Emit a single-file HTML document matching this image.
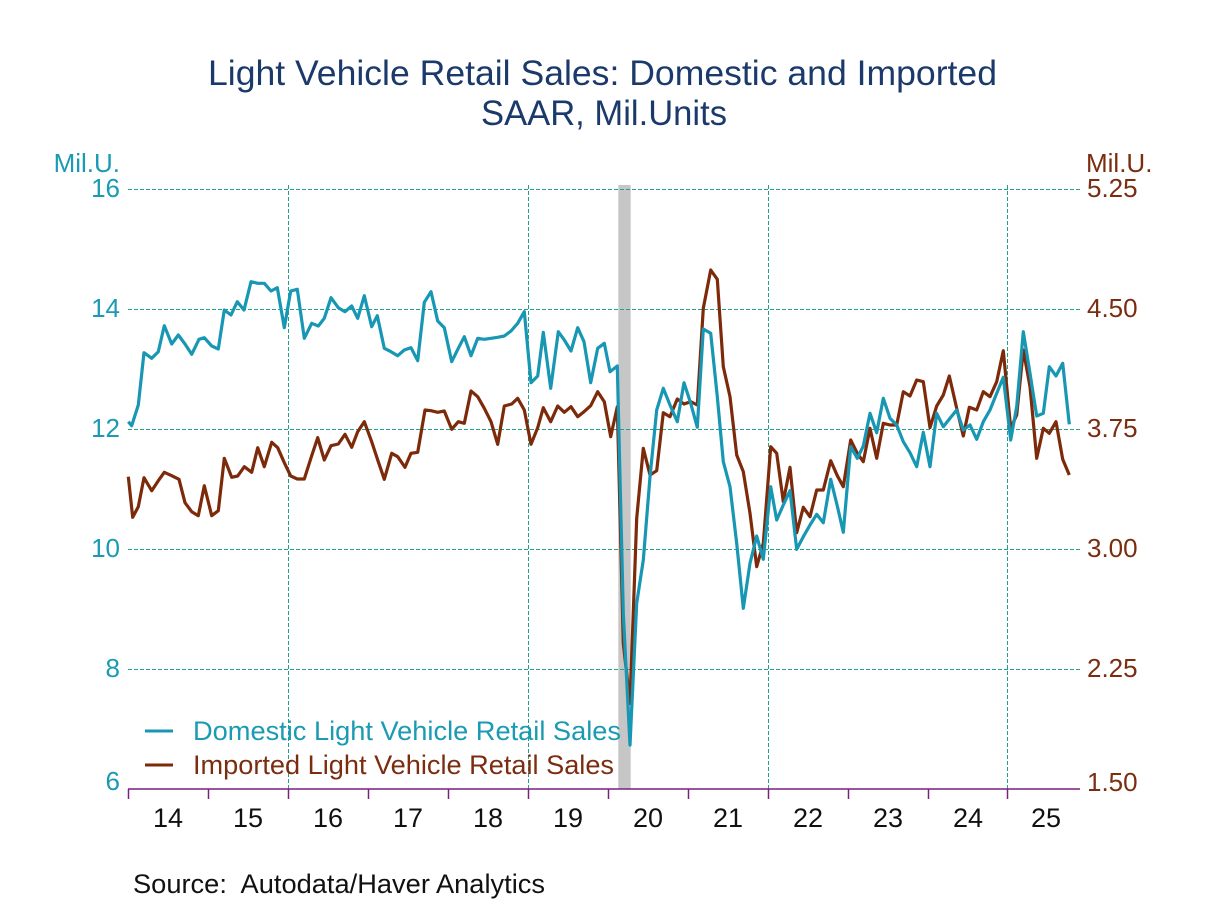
<!DOCTYPE html>
<html><head><meta charset="utf-8"><style>
html,body{margin:0;padding:0;background:#fff;}
svg{display:block;font-family:"Liberation Sans",Arial,sans-serif;}
</style></head><body>
<svg width="1208" height="906" viewBox="0 0 1208 906" xmlns="http://www.w3.org/2000/svg">
<rect width="1208" height="906" fill="#fff"/>
<!-- title -->
<text x="208" y="85" font-size="35.5" fill="#1b3a6b" textLength="789" lengthAdjust="spacingAndGlyphs">Light Vehicle Retail Sales: Domestic and Imported</text>
<text x="481" y="125" font-size="35.5" fill="#1b3a6b" textLength="246" lengthAdjust="spacingAndGlyphs">SAAR, Mil.Units</text>
<!-- recession bar -->
<rect x="618.3" y="185" width="12.4" height="604" fill="#c6c6c6"/>
<!-- grid -->
<g stroke="#22a08a" stroke-width="1" stroke-dasharray="4,2" fill="none" shape-rendering="crispEdges">
<line x1="128" y1="189.5" x2="1080" y2="189.5"/>
<line x1="128" y1="309.5" x2="1080" y2="309.5"/>
<line x1="128" y1="429.5" x2="1080" y2="429.5"/>
<line x1="128" y1="549.5" x2="1080" y2="549.5"/>
<line x1="128" y1="669.5" x2="1080" y2="669.5"/>
<line x1="288.5" y1="185" x2="288.5" y2="789"/>
<line x1="528.5" y1="185" x2="528.5" y2="789"/>
<line x1="768.5" y1="185" x2="768.5" y2="789"/>
<line x1="1007.5" y1="185" x2="1007.5" y2="789"/>
</g>
<!-- axis -->
<g stroke="#7d1f7d" stroke-width="1.5">
<line x1="128" y1="789" x2="1080" y2="789"/>
<line x1="128.5" y1="789" x2="128.5" y2="799"/>
<line x1="208.5" y1="789" x2="208.5" y2="799"/>
<line x1="288.5" y1="789" x2="288.5" y2="799"/>
<line x1="368.5" y1="789" x2="368.5" y2="799"/>
<line x1="448.5" y1="789" x2="448.5" y2="799"/>
<line x1="528.5" y1="789" x2="528.5" y2="799"/>
<line x1="608.5" y1="789" x2="608.5" y2="799"/>
<line x1="688.5" y1="789" x2="688.5" y2="799"/>
<line x1="768.5" y1="789" x2="768.5" y2="799"/>
<line x1="848.5" y1="789" x2="848.5" y2="799"/>
<line x1="928.5" y1="789" x2="928.5" y2="799"/>
<line x1="1007.5" y1="789" x2="1007.5" y2="799"/>
</g>
<!-- x labels -->
<g font-size="27" fill="#111" text-anchor="middle">
<text x="168" y="827">14</text><text x="248" y="827">15</text><text x="328" y="827">16</text>
<text x="408" y="827">17</text><text x="488" y="827">18</text><text x="568" y="827">19</text>
<text x="648" y="827">20</text><text x="728" y="827">21</text><text x="808" y="827">22</text>
<text x="888" y="827">23</text><text x="968" y="827">24</text><text x="1046" y="827">25</text>
</g>
<!-- left labels -->
<g font-size="26" fill="#1b9ab3" text-anchor="end">
<text x="120" y="172">Mil.U.</text>
<text x="120" y="197">16</text>
<text x="120" y="317">14</text>
<text x="120" y="437">12</text>
<text x="120" y="557">10</text>
<text x="120" y="677">8</text>
<text x="120" y="790">6</text>
</g>
<!-- right labels -->
<g font-size="26" fill="#7b2d10" text-anchor="start">
<text x="1086" y="172">Mil.U.</text>
<text x="1087" y="197">5.25</text>
<text x="1087" y="317">4.50</text>
<text x="1087" y="437">3.75</text>
<text x="1087" y="557">3.00</text>
<text x="1087" y="677">2.25</text>
<text x="1087" y="791">1.50</text>
</g>
<!-- imported -->
<polyline fill="none" stroke="#7d2a0b" stroke-width="3.2" stroke-linejoin="round" points="128.3,476.7 132.7,517.3 138.3,506.7 144,477.7 151.7,490.7 158.3,480.7 164.3,472.3 171.7,475.7 179,479.3 185,502.7 191.7,511.7 198.3,515.7 204.3,485.7 211.7,515.7 218.3,510.7 224.3,458.3 231.7,477.3 237.7,476 244.3,466.7 251.7,472.3 257.7,447.7 264.3,466.7 271.7,442.3 277.7,447.7 284.3,462.7 290.7,476 297.3,479 304.3,479 311.7,455.7 317.7,437.7 324.3,460 331,445.7 338.3,444 345,434.3 351.7,447.3 357.7,431.7 364.3,421.7 371.7,441.7 378.3,461.7 384.3,479.3 391.7,453.3 397.7,456.7 405,467.3 411,453.3 417.7,452.3 425,410 431,410.7 437.7,412.3 444.3,411 451.7,429.3 458.3,421.7 464.3,423.3 471,391 477.7,396.7 484.3,408.3 491,421.7 497.7,444.3 504.3,406 511.7,404 517.7,398.3 524.3,410 531,444.3 537.7,427.7 543.3,407.7 550.7,421.7 557.7,406 564.3,412.3 571,406.7 577.7,416.7 584,411.7 590.7,405.7 597.7,391.7 604.3,401.7 610.7,436.7 617.3,406.7 623.3,643.3 630,703.3 636.7,518.3 643.3,448.3 650,475 656.7,470.7 663.3,412.7 670,416.7 677.3,399 684,404 690.7,401.7 697.3,405 703.3,308.3 710.7,270 717.3,279.3 723.3,366.7 730,396.7 736.7,455 743.3,471.7 750,513.3 756.7,566.7 763.3,543.3 770.7,446.7 776.7,453.3 783.3,501.7 790,467.3 796.7,532.7 803.3,507.3 810,516.7 816.7,490 823.3,490 830.7,460.7 837.3,475.7 843.3,486.7 850.7,440 857.3,453.3 863.3,461.7 870,428.3 876.7,458.3 883.3,423.3 890,425 896.7,425 903.3,391.7 910,396 916.7,380 923.3,381.7 930,427.7 936.7,406 943.3,395 949.3,376 956.7,408.3 963.3,436 969.3,407.3 976.7,410 983.3,391.7 990,396.7 996.7,381.7 1003.3,350.7 1010.7,428.3 1016.7,415 1023.3,350 1030,386.7 1036.7,458.3 1043.3,428.3 1049.3,433.3 1056,421.7 1062.7,459.3 1069.3,475"/>
<!-- domestic -->
<polyline fill="none" stroke="#1797b4" stroke-width="3.2" stroke-linejoin="round" points="128.3,421.7 131.7,425.7 138.3,405 144,352.7 151.7,358.3 158.3,351.7 164.3,325.7 171.7,344 178.3,335 185,344 191.7,354.3 199,339.3 204.3,337.7 211.7,346 218.3,349 224.3,310 231,315 237.3,301.7 244,310 251,281.7 257.7,283.3 264.3,283.3 271,291 277.3,287.7 284.3,327.7 290.7,291 297.3,289.3 304.3,338.3 311.7,323.3 318.3,326 324.3,318.3 331,297.7 338.3,307.7 345,311.7 351.7,306 357.7,318.3 364.3,295.7 371.7,326.7 377.3,315.7 384.3,348.3 391,351.7 397.7,355.7 404.3,350 411,347.7 417.7,360.7 424.3,302.3 431,291.7 437.7,321 444.3,327.7 451.7,361.7 458.3,348.3 464.3,336.7 471,355.7 477.7,338.3 484.3,339.3 491,338.3 497.7,337.3 504.3,336 511,331 517.7,323.3 524.3,311.7 531,382.7 537.7,376 543.3,332.3 550.7,388.3 558.3,331.7 564.3,340 571,351 577.7,327.7 584,341.7 590.7,382.7 597.7,348.3 604.3,343.3 610,371.7 617.3,366 623.3,613.3 630,745 636.7,603.3 643.3,560 650,476.7 656.7,410 663.3,388.3 670,405 677.3,421.7 684,382.7 690.7,403.3 697.3,427.3 703.3,329 710.7,333.3 717.3,396.7 723.3,461.7 730,486.7 736.7,543.3 743.3,608.3 750,563.3 756.7,536 763.3,559.3 770.7,486.7 776.7,520 783.3,505 790,490.7 796.7,549.3 803.3,536.7 810,525 816.7,514.3 823.3,522.7 830.7,479.3 837.3,506 843.3,532.3 850.7,446.7 857.3,458.3 863.3,446 870,413.3 876.7,432.7 883.3,398.3 890,418.3 896.7,425 903.3,441.7 910,452.7 916.7,466.7 923.3,432.3 930,466.7 936.7,413.3 943.3,426.7 950,418.3 956.7,410 963.3,430 970,425 976.7,439.3 983.3,421.7 990,410 996.7,393.3 1003.3,377.3 1010.7,440 1016.7,406.7 1023.3,331.7 1030,373.3 1036.7,416 1043.3,413.3 1049.3,366.7 1056,376 1062.7,363.3 1069.3,424.3"/>
<!-- legend -->
<line x1="145" y1="731" x2="173" y2="731" stroke="#1797b4" stroke-width="3"/>
<text x="193" y="740" font-size="27" fill="#1b9ab3" textLength="428" lengthAdjust="spacingAndGlyphs">Domestic Light Vehicle Retail Sales</text>
<line x1="145" y1="765" x2="173" y2="765" stroke="#7d2a0b" stroke-width="3"/>
<text x="193" y="774" font-size="27" fill="#7b2d10" textLength="421" lengthAdjust="spacingAndGlyphs">Imported Light Vehicle Retail Sales</text>
<!-- source -->
<text x="133" y="893" font-size="27" fill="#111" textLength="412" lengthAdjust="spacingAndGlyphs">Source:&#160; Autodata/Haver Analytics</text>
</svg>
</body></html>
